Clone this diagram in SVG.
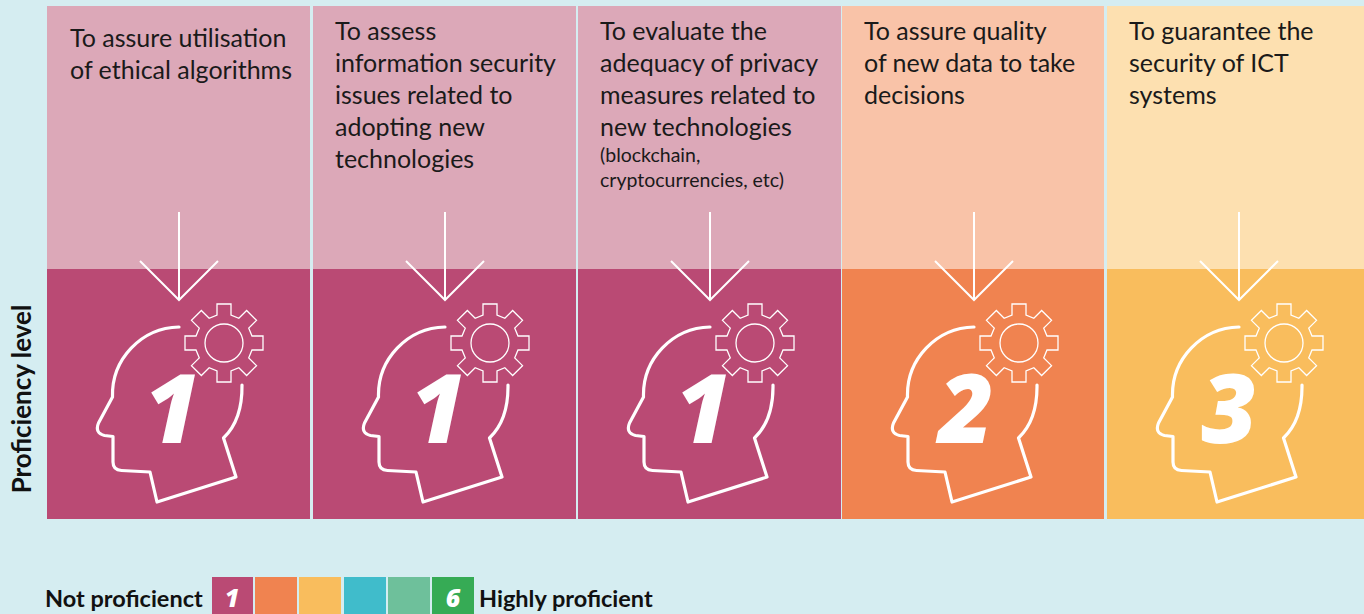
<svg xmlns="http://www.w3.org/2000/svg" xmlns:xlink="http://www.w3.org/1999/xlink" width="1364" height="614" viewBox="0 0 1364 614">
<style>
.t{font-family:"Lato","Noto Sans",sans-serif;font-size:25px;fill:#1a1a1a}
.s{font-size:19.5px}
.num{font-family:"Open Sans","Noto Sans",sans-serif;font-weight:800;font-style:italic;font-size:96px;fill:#fff;text-anchor:middle}
.lab{font-family:"Lato","Noto Sans",sans-serif;font-weight:700;font-size:23.5px;fill:#111}
.vlab{font-size:26px}
.pk1{fill:#dca8b8}.pk2{fill:#ba4a74}
.or1{fill:#f9c3a8}.or2{fill:#f08350}
.ye1{fill:#fde0b0}.ye2{fill:#f9bd5d}
.head{fill:none;stroke:#fff;stroke-width:3.2;stroke-linejoin:round;stroke-linecap:round}
.gear{fill:none;stroke:#fff;stroke-width:1.3}
.arr{fill:none;stroke:#fff;stroke-width:2}
.lnum{font-family:"Open Sans","Noto Sans",sans-serif;font-weight:800;font-style:italic;font-size:25px;fill:#fff;text-anchor:middle}
</style>
<defs>
<g id="icon">
<path class="head" d="M 0.5 327 A 68 68 0 0 0 -66 397 L -80 423 Q -84 433 -74 435.5 L -65.5 436.5 L -65.5 462 Q -65.5 470 -57 470.5 L -28.5 472 L -21.5 502 L 57.5 477 L 45 438 Q 64 420 63.5 385"/>
<g transform="translate(45.5,343)">
<polygon class="gear" points="-7,-28 -7,-39 7,-39 7,-28 14.85,-24.75 22.63,-32.53 32.53,-22.63 24.75,-14.85 28,-7 39,-7 39,7 28,7 24.75,14.85 32.53,22.63 22.63,32.53 14.85,24.75 7,28 7,39 -7,39 -7,28 -14.85,24.75 -22.63,32.53 -32.53,22.63 -24.75,14.85 -28,7 -39,7 -39,-7 -28,-7 -24.75,-14.85 -32.53,-22.63 -22.63,-32.53 -14.85,-24.75"/>
<circle class="gear" cx="0" cy="0" r="19"/>
</g>
</g>
</defs>
<rect width="1364" height="614" fill="#d5edf1"/>

<g id="col1">
<rect class="pk1" x="47" y="6" width="263" height="263"/>
<rect class="pk2" x="47" y="269" width="263" height="250"/>
<use xlink:href="#icon" x="178.5"/>
<text class="num" x="172" y="443">1</text>
<text class="t"><tspan x="70" y="47">To assure utilisation</tspan><tspan x="70" y="79">of ethical algorithms</tspan></text>
</g>

<g id="col2">
<rect class="pk1" x="313" y="6" width="263" height="263"/>
<rect class="pk2" x="313" y="269" width="263" height="250"/>
<use xlink:href="#icon" x="444.5"/>
<text class="num" x="438" y="443">1</text>
<text class="t"><tspan x="335" y="40">To assess</tspan><tspan x="335" y="72">information security</tspan><tspan x="335" y="104">issues related to</tspan><tspan x="335" y="136">adopting new</tspan><tspan x="335" y="168">technologies</tspan></text>
</g>

<g id="col3">
<rect class="pk1" x="578" y="6" width="263" height="263"/>
<rect class="pk2" x="578" y="269" width="263" height="250"/>
<use xlink:href="#icon" x="709.5"/>
<text class="num" x="703" y="443">1</text>
<text class="t"><tspan x="600" y="40">To evaluate the</tspan><tspan x="600" y="72">adequacy of privacy</tspan><tspan x="600" y="104">measures related to</tspan><tspan x="600" y="136">new technologies</tspan><tspan class="s" x="600" y="162">(blockchain,</tspan><tspan class="s" x="600" y="187">cryptocurrencies, etc)</tspan></text>
</g>

<g id="col4">
<rect class="or1" x="842" y="6" width="262" height="263"/>
<rect class="or2" x="842" y="269" width="262" height="250"/>
<use xlink:href="#icon" x="973.5"/>
<text class="num" x="966" y="443">2</text>
<text class="t"><tspan x="864" y="40">To assure quality</tspan><tspan x="864" y="72">of new data to take</tspan><tspan x="864" y="104">decisions</tspan></text>
</g>

<g id="col5">
<rect class="ye1" x="1107" y="6" width="257" height="263"/>
<rect class="ye2" x="1107" y="269" width="257" height="250"/>
<use xlink:href="#icon" x="1238.5"/>
<text class="num" x="1229" y="443">3</text>
<text class="t"><tspan x="1129" y="40">To guarantee the</tspan><tspan x="1129" y="72">security of ICT</tspan><tspan x="1129" y="104">systems</tspan></text>
</g>

<g id="connectors">
<path class="arr" d="M179 212V300M140 261L179 300L218 261"/>
<path class="arr" d="M445 212V300M406 261L445 300L484 261"/>
<path class="arr" d="M710 212V300M671 261L710 300L749 261"/>
<path class="arr" d="M974 212V300M935 261L974 300L1013 261"/>
<path class="arr" d="M1239 212V300M1200 261L1239 300L1278 261"/>
</g>

<g id="axis-label">
<text class="lab vlab" transform="translate(31,399) rotate(-90)" text-anchor="middle">Proficiency level</text>
</g>

<g id="legend">
<text class="lab" x="45" y="607">Not proficienct</text>
<rect x="212" y="577" width="41" height="37" fill="#ba4a74"/>
<rect x="255" y="577" width="42" height="37" fill="#f08350"/>
<rect x="299" y="577" width="42" height="37" fill="#f9bd5d"/>
<rect x="344" y="577" width="42" height="37" fill="#40bccb"/>
<rect x="388" y="577" width="42" height="37" fill="#6ec09b"/>
<rect x="432" y="577" width="42" height="37" fill="#36ab55"/>
<text class="lnum" x="232" y="607">1</text>
<text class="lnum" x="453" y="607">6</text>
<text class="lab" x="479" y="607">Highly proficient</text>
</g>
</svg>
